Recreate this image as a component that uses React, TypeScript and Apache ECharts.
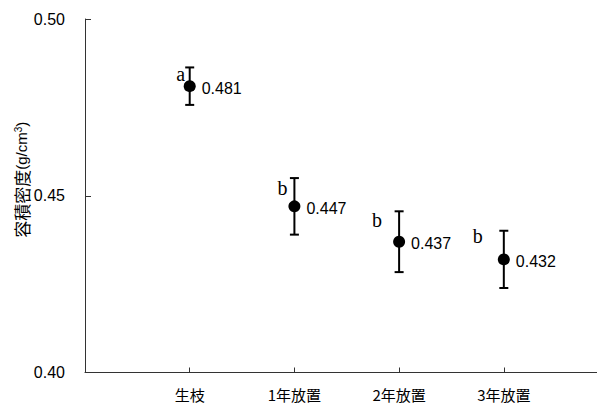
import React, { useEffect, useRef } from "react";
import * as echarts from "echarts";

const categories = ["生枝", "1年放置", "2年放置", "3年放置"];
const means = [0.481, 0.447, 0.437, 0.432];
const errors = [0.0053, 0.008, 0.0086, 0.0081];
const letters = ["a", "b", "b", "b"];
const yMin = 0.4;
const yMax = 0.5;
const yInterval = 0.05;

// label offsets (style only): relative to the top cap of each error bar
const letterOffsets = [
  [-9, 6.5],
  [-12, 10],
  [-22, 9],
  [-26, 5.5],
];

export default function App() {
  const ref = useRef<HTMLDivElement>(null);
  useEffect(() => {
    if (!ref.current) return;
    document.body.style.margin = "0";
    const chart = echarts.init(ref.current, null, { renderer: "svg" });
    const xs = categories.map((_, i) => i + 1);
    const option: any = {
      animation: false,
      backgroundColor: "#ffffff",
      grid: {
        left: 85,
        right: 0,
        top: 19,
        bottom: 32.5,
        containLabel: false,
        outerBoundsMode: "none",
      },
      xAxis: {
        type: "value",
        min: 0,
        max: 4.89,
        axisLine: { show: true, lineStyle: { color: "#333", width: 1 } },
        axisTick: {
          show: true,
          inside: true,
          length: 5,
          customValues: xs,
          lineStyle: { color: "#333" },
        },
        axisLabel: {
          customValues: xs,
          formatter: (v: number) => categories[Math.round(v) - 1] ?? "",
          margin: 14,
          fontSize: 15,
          color: "#000",
          fontFamily: "Noto Sans CJK JP",
        },
        splitLine: { show: false },
      },
      yAxis: {
        type: "value",
        min: yMin,
        max: yMax,
        interval: yInterval,
        name: "{c|容積密度}{l|(g/cm}{s|3}{l|)}",
        nameLocation: "middle",
        nameGap: 55,
        nameRotate: 90,
        nameMoveOverlap: false,
        nameTextStyle: {
          padding: [0, 0, 0, 32],
          rich: {
            c: { fontSize: 17, fontFamily: "Noto Sans CJK JP", color: "#000" },
            l: { fontSize: 15, fontFamily: "Liberation Sans", color: "#000" },
            s: {
              fontSize: 10,
              fontFamily: "Liberation Sans",
              color: "#000",
              verticalAlign: "top",
            },
          },
        },
        axisLine: { show: true, lineStyle: { color: "#333", width: 1 } },
        axisTick: { show: true, inside: true, length: 6, lineStyle: { color: "#333" } },
        axisLabel: {
          formatter: (v: number) => v.toFixed(2),
          margin: 20,
          fontSize: 16,
          color: "#000",
          fontFamily: "Liberation Sans",
        },
        splitLine: { show: false },
      },
      series: [
        {
          type: "custom",
          clip: false,
          data: categories.map((_, i) => [i + 1, means[i], errors[i], i]),
          renderItem: (params: any, api: any) => {
            const x = api.value(0);
            const m = api.value(1);
            const e = api.value(2);
            const idx = api.value(3);
            const top = api.coord([x, m + e]);
            const bot = api.coord([x, m - e]);
            const hw = 4.5;
            const ls = { stroke: "#000", lineWidth: 2 };
            const off = letterOffsets[idx];
            return {
              type: "group",
              children: [
                { type: "line", shape: { x1: top[0], y1: top[1], x2: bot[0], y2: bot[1] }, style: ls },
                { type: "line", shape: { x1: top[0] - hw, y1: top[1], x2: top[0] + hw, y2: top[1] }, style: ls },
                { type: "line", shape: { x1: bot[0] - hw, y1: bot[1], x2: bot[0] + hw, y2: bot[1] }, style: ls },
                {
                  type: "text",
                  x: top[0] + off[0],
                  y: top[1] + off[1],
                  style: {
                    text: letters[idx],
                    fill: "#000",
                    fontSize: 20,
                    fontFamily: "Liberation Serif",
                    align: "center",
                    verticalAlign: "middle",
                  },
                },
              ],
            };
          },
          z: 2,
        },
        {
          type: "scatter",
          data: categories.map((_, i) => [i + 1, means[i]]),
          symbol: "circle",
          symbolSize: 12,
          itemStyle: { color: "#000", opacity: 1 },
          label: {
            show: true,
            position: "right",
            distance: 6,
            offset: [0, 2],
            formatter: (p: any) => p.value[1].toFixed(3),
            fontSize: 16,
            color: "#000",
            fontFamily: "Liberation Sans",
          },
          z: 3,
        },
      ],
    };
    chart.setOption(option);
    return () => chart.dispose();
  }, []);
  return (
    <div style={{ position: "fixed", left: 0, top: 0, width: 597, height: 405, background: "#fff" }}>
      <div ref={ref} style={{ width: 597, height: 405 }} />
    </div>
  );
}
